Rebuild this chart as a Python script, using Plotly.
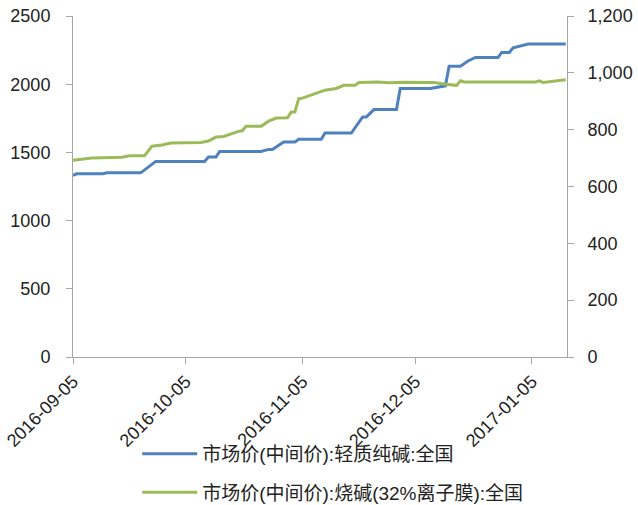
import plotly.graph_objects as go

# Light soda ash national mid price (left axis)
soda_dates = [
    "2016-09-05", "2016-09-06", "2016-09-13", "2016-09-14", "2016-09-23",
    "2016-09-27", "2016-10-10", "2016-10-11", "2016-10-13", "2016-10-14",
    "2016-10-25", "2016-10-27", "2016-10-28", "2016-10-31", "2016-11-03",
    "2016-11-04", "2016-11-10", "2016-11-11", "2016-11-18", "2016-11-21",
    "2016-11-22", "2016-11-24", "2016-11-30", "2016-12-01", "2016-12-09",
    "2016-12-13", "2016-12-14", "2016-12-17", "2016-12-19", "2016-12-21",
    "2016-12-27", "2016-12-28", "2016-12-30", "2016-12-31", "2017-01-04",
    "2017-01-14",
]
soda_values = [
    1331, 1343, 1343, 1350, 1350,
    1434, 1434, 1466, 1466, 1507,
    1507, 1522, 1522, 1577, 1577,
    1596, 1596, 1642, 1642, 1760,
    1760, 1814, 1814, 1968, 1968,
    1988, 2132, 2132, 2170, 2196,
    2196, 2233, 2233, 2267, 2294,
    2294,
]

# Caustic soda (32% membrane) national mid price (right axis)
caustic_dates = [
    "2016-09-05", "2016-09-10", "2016-09-18", "2016-09-20", "2016-09-24",
    "2016-09-26", "2016-09-29", "2016-10-01", "2016-10-09", "2016-10-11",
    "2016-10-13", "2016-10-15", "2016-10-19", "2016-10-20", "2016-10-21",
    "2016-10-25", "2016-10-27", "2016-10-29", "2016-11-01", "2016-11-02",
    "2016-11-03", "2016-11-04", "2016-11-05", "2016-11-11", "2016-11-14",
    "2016-11-16", "2016-11-19", "2016-11-20", "2016-11-25", "2016-11-28",
    "2016-12-02", "2016-12-10", "2016-12-13", "2016-12-16", "2016-12-17",
    "2016-12-18", "2017-01-06", "2017-01-07", "2017-01-08", "2017-01-10",
    "2017-01-14",
]
caustic_values = [
    692, 700, 703, 708, 708,
    742, 747, 753, 755, 760,
    774, 776, 794, 796, 812,
    812, 830, 841, 842, 862,
    862, 909, 911, 939, 945,
    956, 956, 966, 968, 965,
    967, 966, 960, 956, 972,
    968, 968, 972, 966, 970,
    976,
]

x_ticks = ["2016-09-05", "2016-10-05", "2016-11-05", "2016-12-05", "2017-01-05"]
left_ticks = [0, 500, 1000, 1500, 2000, 2500]
right_ticks = [0, 200, 400, 600, 800, 1000, 1200]

soda_name = "市场价(中间价):轻质纯碱:全国"
caustic_name = "市场价(中间价):烧碱(32%离子膜):全国"

FONT = "Liberation Sans, Noto Sans CJK SC, sans-serif"
AXIS_GREY = "#A6A6A6"
TEXT = "#222222"

fig = go.Figure()
fig.add_trace(go.Scatter(
    x=soda_dates, y=soda_values, name=soda_name, mode="lines",
    line=dict(color="#4F81BD", width=3), yaxis="y", legendgroup="a",
))
fig.add_trace(go.Scatter(
    x=caustic_dates, y=caustic_values, name=caustic_name, mode="lines",
    line=dict(color="#9BBB59", width=3), yaxis="y2", legendgroup="b",
))

fig.update_layout(
    width=638, height=505,
    margin=dict(l=73, r=71, t=16, b=148),
    paper_bgcolor="white", plot_bgcolor="white",
    font=dict(family=FONT, size=18, color=TEXT),
    xaxis=dict(
        type="date", automargin=False,
        range=["2016-09-05", "2017-01-14 08:00"],
        tickvals=x_ticks, ticktext=x_ticks, tickangle=-45,
        showgrid=False, zeroline=False,
        showline=True, linecolor=AXIS_GREY, linewidth=1,
        ticks="outside", ticklen=6, tickcolor=AXIS_GREY,
    ),
    yaxis=dict(
        range=[0, 2500], tickvals=left_ticks, automargin=False,
        showgrid=False, zeroline=False,
        showline=True, linecolor=AXIS_GREY, linewidth=1,
        ticks="outside", ticklen=6, tickcolor=AXIS_GREY,
        ticklabelstandoff=12,
    ),
    yaxis2=dict(
        range=[0, 1200], tickvals=right_ticks, tickformat=",d", automargin=False,
        overlaying="y", side="right",
        showgrid=False, zeroline=False,
        showline=True, linecolor=AXIS_GREY, linewidth=1,
        ticks="outside", ticklen=6, tickcolor=AXIS_GREY,
        ticklabelstandoff=10,
    ),
    legend=dict(
        orientation="v", x=0.13, xanchor="left",
        yref="container", y=0.139, yanchor="top",
        font=dict(family=FONT, size=19, color=TEXT),
        itemwidth=55, tracegroupgap=11, bgcolor="rgba(0,0,0,0)",
    ),
    showlegend=True,
)

fig.write_html("out.html")
